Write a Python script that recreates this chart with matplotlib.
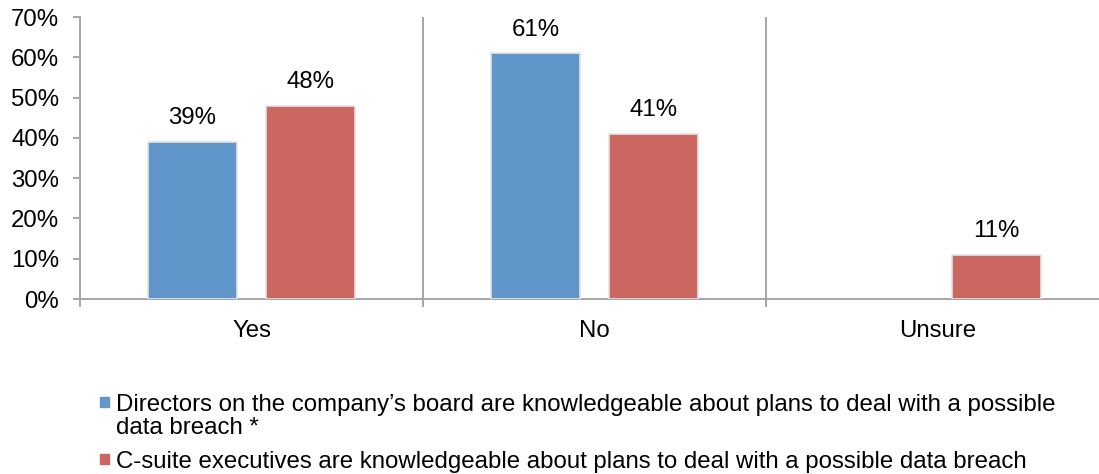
import matplotlib.pyplot as plt
from matplotlib.patches import Rectangle

plt.rcParams['font.family'] = ['Liberation Sans', 'DejaVu Sans']

categories = ['Yes', 'No', 'Unsure']
directors = [39, 61, None]
csuite = [48, 41, 11]
series_labels = [
    "Directors on the company\u2019s board are knowledgeable about plans to deal with a possible\ndata breach *",
    "C-suite executives are knowledgeable about plans to deal with a possible data breach",
]
colors = ['#6096C9', '#CC6660']
axis_grey = '#A6A6A6'
fs = 17.3

fig = plt.figure(figsize=(10.99, 4.74), dpi=100)
ax = fig.add_axes([80 / 1099, 175 / 474, 1029 / 1099, 282 / 474])

width = 0.262
offset = 0.172
for i, cat in enumerate(categories):
    center = i + 0.5
    for vals, col, dx in [(directors, colors[0], -offset), (csuite, colors[1], offset)]:
        v = vals[i]
        if v is None:
            continue
        ax.bar(center + dx, v, width=width, color=col, edgecolor='#E4E4E4', linewidth=1.2, zorder=3)
        ax.annotate(f'{v}%', (center + dx, v), xytext=(0, 9), textcoords='offset points',
                    ha='center', va='bottom', fontsize=fs)

# category separators
for x in range(1, len(categories)):
    ax.axvline(x, color=axis_grey, linewidth=1.4, zorder=1)

ax.set_xlim(0, len(categories))
ax.set_ylim(0, 70)
ax.set_yticks(range(0, 71, 10))
ax.set_yticklabels([f'{t}%' for t in range(0, 71, 10)], fontsize=fs)

ax.set_xticks(range(0, len(categories) + 1))
ax.set_xticklabels([])
ax.set_xticks([i + 0.5 for i in range(len(categories))], minor=True)
ax.set_xticklabels(categories, minor=True, fontsize=fs)
ax.tick_params(axis='x', which='major', length=6, width=1.4, color=axis_grey, direction='out')
ax.tick_params(axis='x', which='minor', length=0, pad=15)
ax.tick_params(axis='y', length=5, width=1.4, color=axis_grey, direction='out', pad=10)

for side in ['top', 'right']:
    ax.spines[side].set_visible(False)
for side in ['left', 'bottom']:
    ax.spines[side].set_color(axis_grey)
    ax.spines[side].set_linewidth(1.4)

# legend below the plot
entries_y = [402, 459]
for label, col, y in zip(series_labels, colors, entries_y):
    fig.patches.append(Rectangle((100 / 1099, (474 - y - 5) / 474), 9 / 1099, 10 / 474,
                                 transform=fig.transFigure, color=col, figure=fig))
    fig.text(116 / 1099, (474 - y + 8) / 474, label, fontsize=fs, ha='left', va='top',
             linespacing=1.08)

fig.savefig('out.png', dpi=100)
